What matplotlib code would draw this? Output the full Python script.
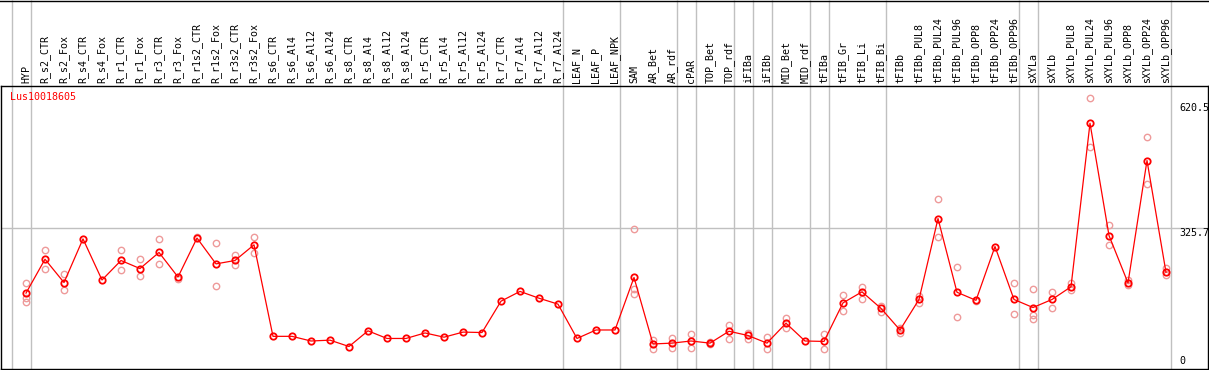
import matplotlib
matplotlib.use("Agg")
import matplotlib.pyplot as plt
from matplotlib.lines import Line2D

gene = "Lus10018605"

samples = ["HYP", "R_s2_CTR", "R_s2_Fox", "R_s4_CTR", "R_s4_Fox", "R_r1_CTR", "R_r1_Fox",
           "R_r3_CTR", "R_r3_Fox", "R_r1s2_CTR", "R_r1s2_Fox", "R_r3s2_CTR", "R_r3s2_Fox",
           "R_s6_CTR", "R_s6_Al4", "R_s6_Al12", "R_s6_Al24", "R_s8_CTR", "R_s8_Al4",
           "R_s8_Al12", "R_s8_Al24", "R_r5_CTR", "R_r5_Al4", "R_r5_Al12", "R_r5_Al24",
           "R_r7_CTR", "R_r7_Al4", "R_r7_Al12", "R_r7_Al24", "LEAF_N", "LEAF_P", "LEAF_NPK",
           "SAM", "AR_Bet", "AR_rdf", "cPAR", "TOP_Bet", "TOP_rdf", "iFIBa", "iFIBb",
           "MID_Bet", "MID_rdf", "tFIBa", "tFIB_Gr", "tFIB_Li", "tFIB_Bi", "tFIBb",
           "tFIBb_PUL8", "tFIBb_PUL24", "tFIBb_PUL96", "tFIBb_OPP8", "tFIBb_OPP24",
           "tFIBb_OPP96", "sXYLa", "sXYLb", "sXYLb_PUL8", "sXYLb_PUL24", "sXYLb_PUL96",
           "sXYLb_OPP8", "sXYLb_OPP24", "sXYLb_OPP96"]

means = [172, 252, 197, 300, 203, 249, 230, 268, 210, 302, 241, 249, 286,
         70, 70, 59, 61, 46, 83, 65, 65, 78, 68, 80, 79, 153, 176, 160, 146,
         65, 85, 85, 209, 52, 54, 59, 54, 82, 72, 54, 101, 59, 58, 149, 175, 136, 85,
         157, 348, 174, 155, 282, 157, 138, 157, 187, 573, 308, 196, 485, 221]

replicates = [[197, 160, 152], [273, 228], [217, 179], [], [], [273, 226], [252, 212],
              [300, 241], [205], [304], [290, 189], [263, 239], [304, 266],
              [], [], [], [], [], [], [], [], [], [], [], [], [], [], [], [],
              [], [], [], [323, 181, 169], [61, 39], [66, 42], [75, 42], [56, 51],
              [97, 64], [79, 63], [68, 39], [113, 89], [], [75, 39], [168, 130],
              [187, 157], [142, 128], [89, 79], [165, 148], [393, 304], [233, 115],
              [153], [], [195, 122], [181, 121, 110], [175, 138], [195, 179],
              [632, 516], [332, 285], [203, 190], [540, 430], [231, 215]]

# group separators sit just right of these sample indices
group_ends = [-1, 0, 28, 31, 34, 35, 37, 38, 39, 41, 42, 45, 52, 53, 60]
y_marks = [620.5, 325.7, 0]

W, H = 1209, 370
fig = plt.figure(figsize=(W / 100, H / 100), dpi=100)
top_px, bot_px = 85.5, 369
ax = fig.add_axes([1 / W, (H - bot_px) / H, 1207 / W, (bot_px - top_px) / H])
ax.set_xlim((1 - 26) / 19, (1208 - 26) / 19)
ax.set_ylim((366 - bot_px) / 0.4237, (366 - top_px) / 0.4237)
ax.set_xticks([])
ax.set_yticks([])
for s in ax.spines.values():
    s.set_color("black")
    s.set_linewidth(1.0)

grey = "#c0c0c0"
y_top = 1 + top_px / (bot_px - top_px)
ax.vlines([g + 0.25 for g in group_ends], 0, y_top, color=grey, lw=1.0,
          transform=ax.get_xaxis_transform(), clip_on=False, zorder=1)
ax.axhline(325.7, color=grey, lw=1.0, zorder=1)

fig.add_artist(Line2D([0, 1], [1 - 0.5 / H, 1 - 0.5 / H], color="black", lw=1.0))

mono = "DejaVu Sans Mono"
lab_y = (bot_px - 83) / (bot_px - top_px)
for i, name in enumerate(samples):
    ax.text(i, lab_y, name, rotation=90, ha="center", va="bottom", fontsize=7.2,
            family=mono, transform=ax.get_xaxis_transform(), clip_on=False)

# replicate points
rx, ry = [], []
for i, reps in enumerate(replicates):
    for r in reps:
        rx.append(i)
        ry.append(r)
ax.plot(rx, ry, "o", ms=4.6, mfc="none", mec="#ee9a9a", mew=1.0, ls="none", zorder=2)

xs = list(range(len(samples)))
ax.plot(xs, means, color="red", lw=0.9, zorder=3)
ax.plot(xs, means, "o", ms=4.6, mfc="none", mec="red", mew=1.3, ls="none", zorder=4)

lab_x = (1179 - 26) / 19
ax.text(lab_x, y_marks[0], "620.5", ha="left", va="top", fontsize=7.2, family=mono)
ax.text(lab_x, y_marks[1], "325.7", ha="left", va="top", fontsize=7.2, family=mono)
ax.text(lab_x, y_marks[2], "0", ha="left", va="bottom", fontsize=7.2, family=mono)

ax.text(0.0075, (366 - 97) / 0.4237, gene, transform=ax.get_yaxis_transform(),
        ha="left", va="center", color="red", fontsize=7.2, family=mono)

fig.savefig("out.png", dpi=100)
